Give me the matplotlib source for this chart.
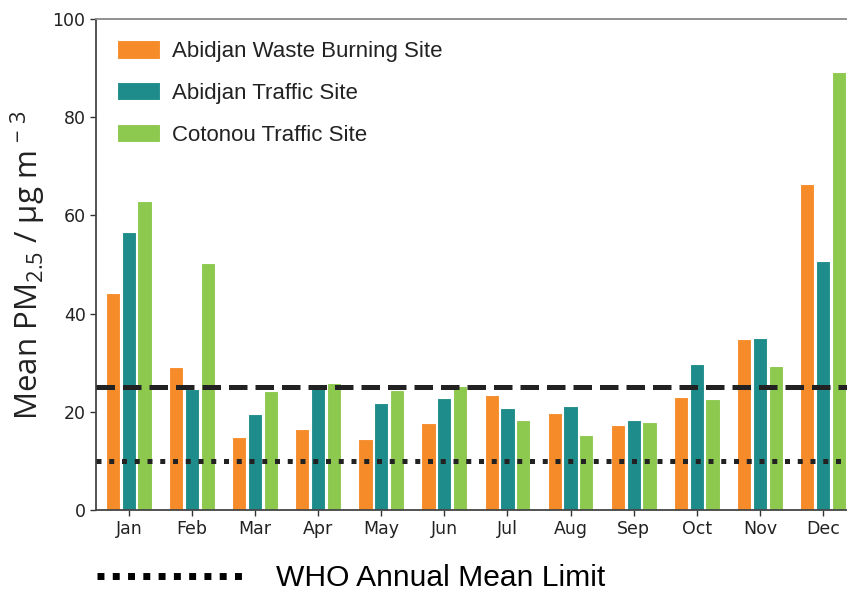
import numpy as np
import matplotlib
matplotlib.use("Agg")
import matplotlib.pyplot as plt
from matplotlib.lines import Line2D

months = ["Jan", "Feb", "Mar", "Apr", "May", "Jun", "Jul", "Aug", "Sep", "Oct", "Nov", "Dec"]
series_names = ["Abidjan Waste Burning Site", "Abidjan Traffic Site", "Cotonou Traffic Site"]
abidjan_waste = [44.2, 29.1, 14.9, 16.5, 14.5, 17.7, 23.4, 19.7, 17.3, 23.1, 34.8, 66.4]
abidjan_traffic = [56.6, 24.6, 19.6, 25.5, 21.8, 22.9, 20.7, 21.2, 18.3, 29.7, 35.0, 50.7]
cotonou_traffic = [62.9, 50.3, 24.2, 25.9, 24.4, 25.3, 18.3, 15.2, 17.9, 22.6, 29.4, 89.3]
who_daily_limit = 25
who_annual_limit = 10
yticks = [0, 20, 40, 60, 80, 100]

colors = ["#F68B2A", "#1E8C8A", "#8DC84F"]

plt.rcParams["font.family"] = ["DejaVu Sans"]
plt.rcParams["mathtext.fontset"] = "custom"
plt.rcParams["mathtext.rm"] = "Open Sans"
plt.rcParams["mathtext.it"] = "Open Sans:italic"
plt.rcParams["mathtext.bf"] = "Open Sans:bold"

fig = plt.figure(figsize=(8.47, 5.92), dpi=100)
ax = fig.add_axes([96 / 847, 1 - 510 / 592, 1 - 96 / 847, (510 - 19) / 592])

x = np.arange(len(months))
width = 0.225
offsets = [-0.25, 0.0, 0.25]
for vals, name, col, off in zip([abidjan_waste, abidjan_traffic, cotonou_traffic],
                                series_names, colors, offsets):
    ax.bar(x + off, vals, width=width, color=col, edgecolor="white", linewidth=0.8,
           label=name, zorder=2)

ax.axhline(who_daily_limit, color="#222222", lw=3.6, linestyle="--", zorder=3)
ax.axhline(who_annual_limit, color="#222222", lw=3.6, linestyle=(0, (1, 1.55)), zorder=3)

ax.set_xlim(-0.52, 11.38)
ax.set_ylim(0, 100)
ax.set_yticks(yticks)
ax.set_xticks(x)
ax.set_xticklabels(months)
ax.tick_params(axis="both", labelsize=12.5, colors="#333333", length=4, width=1, direction="out")
ax.tick_params(axis="both", labelcolor="#222222")
for s in ["left", "bottom"]:
    ax.spines[s].set_color("#444444")
    ax.spines[s].set_linewidth(1.3)
ax.spines["top"].set_color("#888888")
ax.spines["top"].set_linewidth(1.3)
ax.spines["right"].set_visible(False)

ax.set_ylabel(r"Mean PM$_{2.5}$ / μg m$^{\,-\,3}$", fontsize=22.5, family="Open Sans",
              color="#222222", labelpad=3)

leg = ax.legend(loc="upper left", frameon=False, prop={"family": "Liberation Sans", "size": 16},
                handlelength=1.95, handleheight=0.9, handletextpad=0.5, labelspacing=0.9,
                borderaxespad=0.5, borderpad=0.45)
for t in leg.get_texts():
    t.set_color("#222222")

h = Line2D([], [], color="black", lw=5, linestyle=(0, (1, 1.2)))
fig.legend(handles=[h], labels=["WHO Annual Mean Limit"], loc="center left",
           bbox_to_anchor=(97 / 847, 1 - 578 / 592), frameon=False,
           prop={"family": "Liberation Sans", "size": 21.6}, handlelength=4.87,
           handletextpad=1.1, borderpad=0, borderaxespad=0)

fig.savefig("out.png", dpi=100)
